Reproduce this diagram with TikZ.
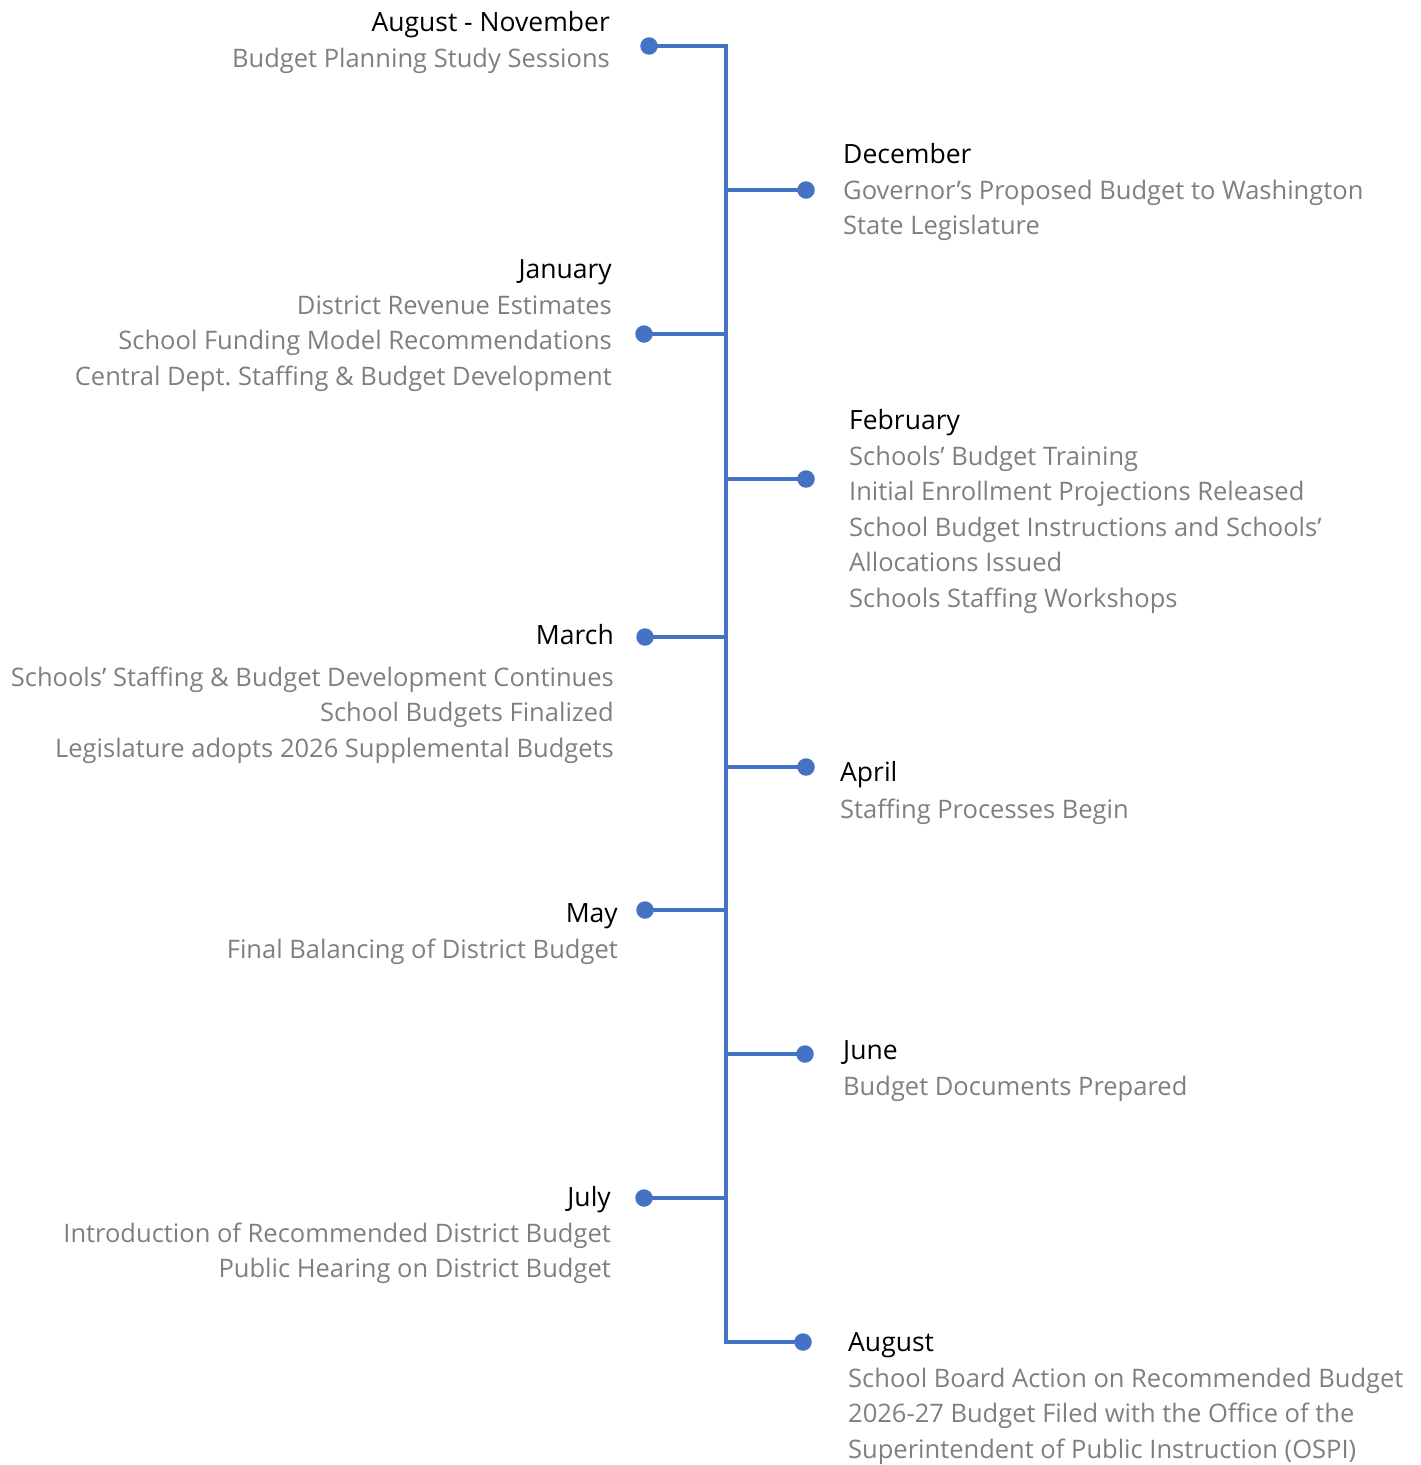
\documentclass[tikz,border=0pt]{standalone}
\usepackage{fontspec}
\setmainfont{Open Sans}
\definecolor{lineblue}{HTML}{4472C4}
\definecolor{notegray}{HTML}{7F7F7F}
\tikzset{
  branch/.style={line width=4.5pt, draw=lineblue, line join=miter},
  dot/.style={circle, fill=lineblue, inner sep=0pt, minimum size=17.5pt},
  month/.style={inner sep=0pt, font=\fontsize{26.5}{35.5}\selectfont},
  notes/.style={inner sep=0pt, text=notegray, font=\fontsize{25.5}{35.5}\selectfont},
}
\begin{document}
\begin{tikzpicture}[x=1pt,y=-1pt]
\useasboundingbox (0,0) rectangle (1421,1465);

% spine and dot positions
\coordinate (top) at (726,46);
\coordinate (bottom) at (726,1342);
\coordinate (p-augnov) at (649,46);
\coordinate (p-dec) at (806,190);
\coordinate (p-jan) at (644,334);
\coordinate (p-feb) at (806,479);
\coordinate (p-mar) at (645,637);
\coordinate (p-apr) at (806,767);
\coordinate (p-may) at (645,910);
\coordinate (p-jun) at (805,1054);
\coordinate (p-jul) at (644,1198);
\coordinate (p-aug) at (803,1342);

\draw[branch] (p-augnov) -- (top) -- (bottom) -- (p-aug);
\foreach \m in {dec,jan,feb,mar,apr,may,jun,jul}
  \draw[branch] (p-\m) -- (p-\m -| top);

\foreach \m in {augnov,dec,jan,feb,mar,apr,may,jun,jul,aug}
  \node[dot] (\m) at (p-\m) {};

% left side (notes are placed by the baseline of their last line)
\node[month, anchor=base east] (augnov-t) at (610,31) {August - November};
\node[notes, anchor=base east, align=right] (augnov-n) at (610,67) {Budget Planning Study Sessions};

\node[month, anchor=base east] (jan-t) at (612,278) {January};
\node[notes, anchor=base east, align=right] (jan-n) at (612,385) {District Revenue Estimates\\School Funding Model Recommendations\\Central Dept.\ Staffing \& Budget Development};

\node[month, anchor=base east] (mar-t) at (614,644) {March};
\node[notes, anchor=base east, align=right] (mar-n) at (614,757) {Schools’ Staffing \& Budget Development Continues\\School Budgets Finalized\\Legislature adopts 2026 Supplemental Budgets};

\node[month, anchor=base east] (may-t) at (618,922) {May};
\node[notes, anchor=base east, align=right] (may-n) at (618,958) {Final Balancing of District Budget};

\node[month, anchor=base east] (jul-t) at (611,1206) {July};
\node[notes, anchor=base east, align=right] (jul-n) at (611,1277.5) {Introduction of Recommended District Budget\\Public Hearing on District Budget};

% right side
\node[month, anchor=base west] (dec-t) at (843,163) {December};
\node[notes, anchor=base west, align=left] (dec-n) at (843,234.5) {Governor’s Proposed Budget to Washington\\State Legislature};

\node[month, anchor=base west] (feb-t) at (849,429) {February};
\node[notes, anchor=base west, align=left] (feb-n) at (849,607) {Schools’ Budget Training\\Initial Enrollment Projections Released\\School Budget Instructions and Schools’\\Allocations Issued\\Schools Staffing Workshops};

\node[month, anchor=base west] (apr-t) at (840,781) {April};
\node[notes, anchor=base west, align=left] (apr-n) at (840,818) {Staffing Processes Begin};

\node[month, anchor=base west] (jun-t) at (843,1059) {June};
\node[notes, anchor=base west, align=left] (jun-n) at (843,1095) {Budget Documents Prepared};

\node[month, anchor=base west] (aug-t) at (848,1351) {August};
\node[notes, anchor=base west, align=left] (aug-n) at (848,1458) {School Board Action on Recommended Budget\\2026-27 Budget Filed with the Office of the\\Superintendent of Public Instruction (OSPI)};

\end{tikzpicture}
\end{document}
